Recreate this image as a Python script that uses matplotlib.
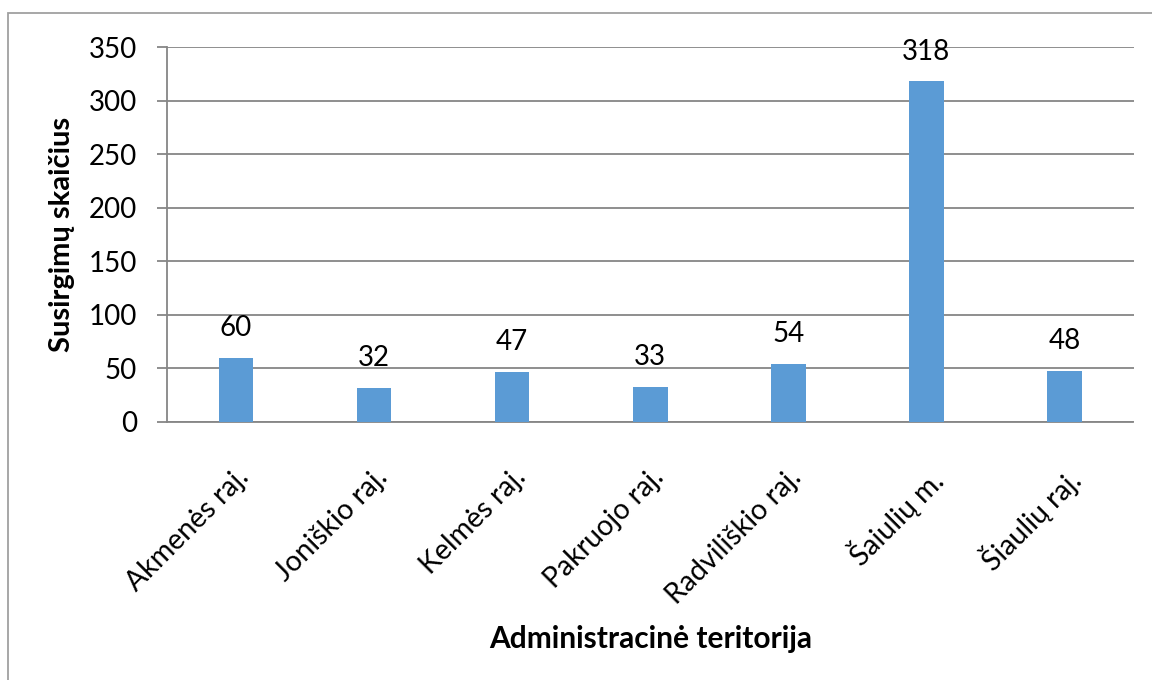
import matplotlib.pyplot as plt
from matplotlib.patches import Rectangle

# --- data ---
territories = ["Akmenės raj.", "Joniškio raj.", "Kelmės raj.", "Pakruojo raj.",
               "Radviliškio raj.", "Šaiulių m.", "Šiaulių raj."]
cases = [60, 32, 47, 33, 54, 318, 48]
y_ticks = [0, 50, 100, 150, 200, 250, 300, 350]

plt.rcParams['font.family'] = ['Lato', 'DejaVu Sans']
bar_color = "#5B9BD5"
grid_color = "#868686"

fig = plt.figure(figsize=(11.52, 6.8), dpi=100)
W, H = 1152, 680
# chart-area border (only top and left edge visible in the original)
fig.patches.append(Rectangle((8 / W, -0.2), 1.2, 1.2 - 13 / H, transform=fig.transFigure,
                             fill=False, edgecolor="#A0A0A0", linewidth=1.3))

ax = fig.add_axes([167 / W, (H - 422) / H, (1133.5 - 167) / W, (422 - 47) / H])
x = range(len(territories))
ax.bar(x, cases, width=0.25, color=bar_color, zorder=3)
ax.set_xlim(-0.5, len(territories) - 0.5)
ax.set_ylim(0, 350)
ax.set_yticks(y_ticks)
ax.yaxis.grid(True, color=grid_color, linewidth=1.3)
ax.set_axisbelow(True)

for s in ["top", "right"]:
    ax.spines[s].set_visible(False)
for s in ["left", "bottom"]:
    ax.spines[s].set_color(grid_color)
    ax.spines[s].set_linewidth(1.3)

ax.tick_params(axis='y', length=7.5, width=1.3, color=grid_color, labelsize=20, pad=14)
ax.tick_params(axis='x', length=0, labelsize=20.5, pad=30)
ax.set_xticks(list(x))
ax.set_xticklabels(territories, rotation=45, ha='right', va='top', rotation_mode='anchor')

for i, v in enumerate(cases):
    ax.annotate(str(v), (i, v), xytext=(0, 12), textcoords='offset points',
                ha='center', va='bottom', fontsize=20)

ax.set_ylabel("Susirgimų skaičius", fontsize=21, fontweight='bold', labelpad=10)
ax.set_xlabel("Administracinė teritorija", fontsize=21.5, fontweight='bold', labelpad=12)

fig.savefig("out.png", dpi=100)
